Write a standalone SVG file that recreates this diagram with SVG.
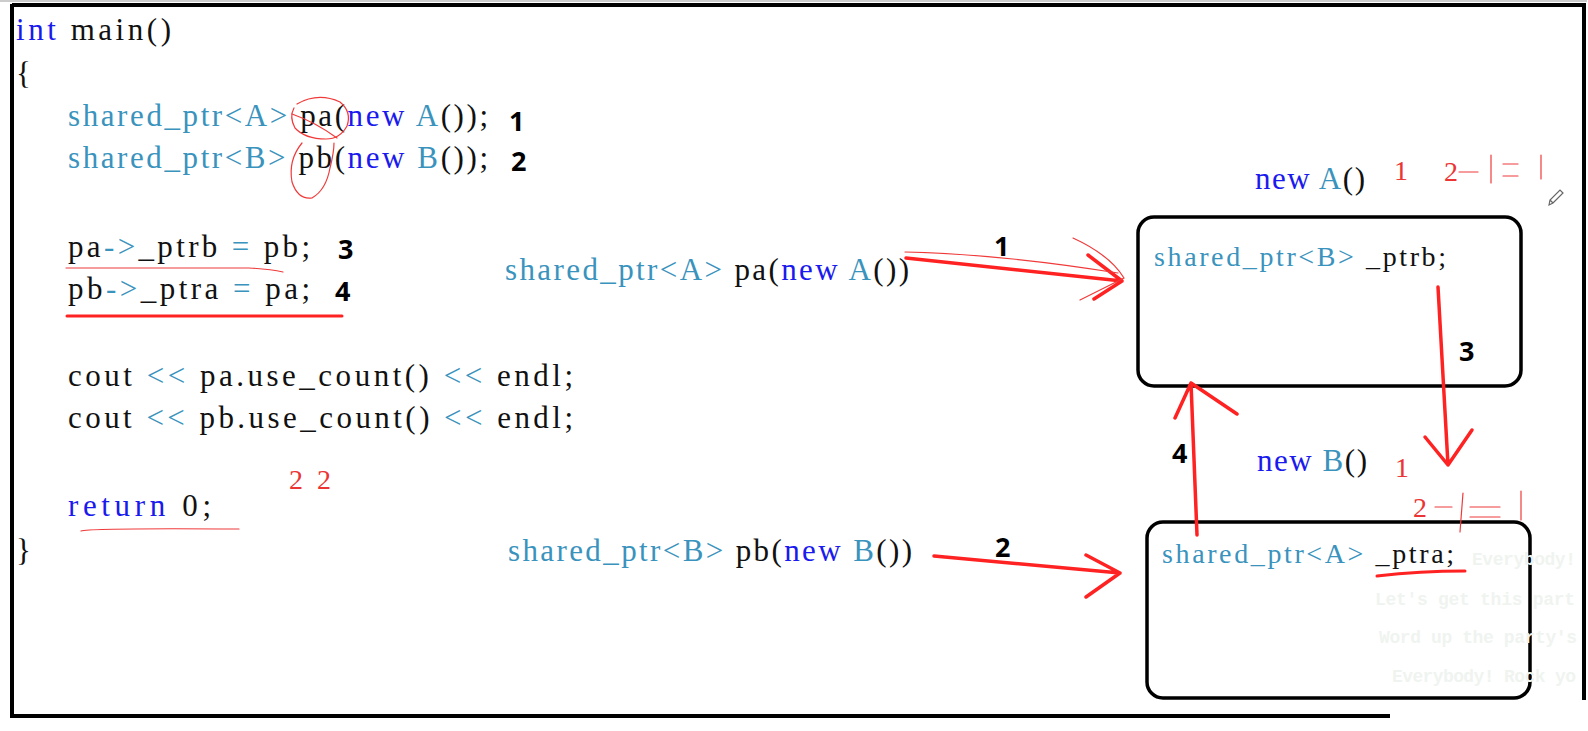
<svg xmlns="http://www.w3.org/2000/svg" width="1588" height="731" viewBox="0 0 1588 731">
<style>
.code{font-family:"Liberation Serif","Noto Sans CJK SC",serif;font-size:31px;fill:#111}
.box{font-family:"Liberation Serif","Noto Sans CJK SC",serif;font-size:28px;fill:#111}
.k{fill:#1a1aee}
.t{fill:#3a93bd}
.num{font-family:"Open Sans","Noto Sans",sans-serif;font-weight:700;font-size:27px;fill:#000}
.rd{font-family:"Liberation Serif",serif;font-size:28px;fill:#ec3434}
.wm{font-family:"Liberation Mono",monospace;font-weight:700;font-size:18px;fill:#f0f4f0}
.frame{stroke:#000;stroke-width:4;fill:none}
.node{fill:#fff;stroke:#000;stroke-width:3.5}
.arr{stroke:#f22;stroke-width:3.5;fill:none;stroke-linecap:round;stroke-linejoin:round}
.thin{stroke:#f03a3a;stroke-width:1.2;fill:none;stroke-linecap:round}
</style>
<rect width="1588" height="731" fill="#fff"/>

<g id="frame">
<path d="M0,1 H1587" stroke="#999" stroke-width="1"/>
<path class="frame" d="M12,5 H1584 V700"/>
<path class="frame" d="M12,4 V716 H1390"/>
</g>

<g id="code">
<text class="code" x="16" y="40" textLength="155"><tspan class="k">int</tspan> main()</text>
<text class="code" x="16" y="84">{</text>
<text class="code" x="68" y="126" textLength="420"><tspan class="t">shared_ptr&lt;A&gt;</tspan> pa(<tspan class="k">new</tspan><tspan class="t"> A</tspan>());</text>
<text class="code" x="68" y="168" textLength="420"><tspan class="t">shared_ptr&lt;B&gt;</tspan> pb(<tspan class="k">new</tspan><tspan class="t"> B</tspan>());</text>
<text class="code" x="68" y="257" textLength="242">pa<tspan class="t">-&gt;</tspan>_ptrb <tspan class="t">=</tspan> pb;</text>
<text class="code" x="68" y="299" textLength="242">pb<tspan class="t">-&gt;</tspan>_ptra <tspan class="t">=</tspan> pa;</text>
<text class="code" x="68" y="386" textLength="505">cout <tspan class="t">&lt;&lt;</tspan> pa.use_count() <tspan class="t">&lt;&lt;</tspan> endl;</text>
<text class="code" x="68" y="428" textLength="505">cout <tspan class="t">&lt;&lt;</tspan> pb.use_count() <tspan class="t">&lt;&lt;</tspan> endl;</text>
<text class="code" x="68" y="516" textLength="143"><tspan class="k">return</tspan> 0;</text>
<text class="code" x="16" y="561">}</text>
<text class="num" x="509" y="131">1</text>
<text class="num" x="511" y="171">2</text>
<text class="num" x="338" y="259">3</text>
<text class="num" x="335" y="301">4</text>
<text class="rd" x="289" y="489" textLength="42">2 2</text>
</g>

<g id="annotations">
<path class="thin" d="M297,104 Q318,92 340,102 Q352,112 347,126 Q340,139 326,139 Q305,139 295,128 Q289,117 294,108"/>
<path class="thin" d="M292,114 Q315,122 337,138"/>
<path class="thin" d="M302,143 Q288,160 292,182 Q298,200 312,198 Q326,190 330,168 Q334,152 334,143"/>
<path class="thin" d="M66,268 L249,268 Q270,269 283,272"/>
<path d="M67,316 L342,316" stroke="#f22" stroke-width="3" stroke-linecap="round"/>
<path class="thin" d="M81,531 Q90,528 239,529"/>
</g>

<g id="label-pa">
<text class="code" x="505" y="280" textLength="404"><tspan class="t">shared_ptr&lt;A&gt;</tspan> pa(<tspan class="k">new</tspan><tspan class="t"> A</tspan>())</text>
</g>
<g id="label-pb">
<text class="code" x="508" y="561" textLength="404"><tspan class="t">shared_ptr&lt;B&gt;</tspan> pb(<tspan class="k">new</tspan><tspan class="t"> B</tspan>())</text>
</g>

<g id="nodeA">
<text class="code" x="1255" y="189" textLength="110"><tspan class="k">new</tspan><tspan class="t"> A</tspan>()</text>
<rect class="node" x="1138" y="217" width="383" height="169" rx="16"/>
<text class="box" x="1154" y="266" textLength="292"><tspan class="t">shared_ptr&lt;B&gt;</tspan> _ptrb;</text>
<text class="rd" x="1394" y="180">1</text>
<text class="rd" x="1444" y="181">2</text>
<path class="thin" d="M1459,172 H1478 M1491,155 V183 M1503,164 H1518 M1503,176 H1518 M1541,155 V179"/>
</g>

<g id="nodeB">
<text class="code" x="1257" y="471" textLength="110"><tspan class="k">new</tspan><tspan class="t"> B</tspan>()</text>
<rect class="node" x="1147" y="522" width="383" height="176" rx="16"/>
<text class="wm" x="1472" y="565" textLength="104">Everybody!</text>
<text class="wm" x="1375" y="605" textLength="200">Let's get this part</text>
<text class="wm" x="1379" y="643" textLength="198">Word up the party's</text>
<text class="wm" x="1392" y="682" textLength="184">Everybody! Rock yo</text>
<text class="box" x="1162" y="563" textLength="292"><tspan class="t">shared_ptr&lt;A&gt;</tspan> _ptra;</text>
<path d="M1377,576 Q1420,571 1465,571" stroke="#f22" stroke-width="3" fill="none" stroke-linecap="round"/>
<text class="rd" x="1395" y="477">1</text>
<text class="rd" x="1413" y="517">2</text>
<path class="thin" d="M1435,507 H1452 M1463,493 L1460,532 M1470,507 H1500 M1470,517 H1500 M1521,491 V520"/>
</g>

<g id="connectors">
<path class="arr" d="M906,258 L1122,281 M1088,255 L1122,281 L1094,299"/>
<path class="thin" d="M905,252 Q1000,254 1118,273 M1073,238 Q1110,255 1124,278 Q1100,290 1080,300"/>
<path class="arr" d="M934,556 L1120,573 M1086,555 L1120,573 L1086,597"/>
<path class="arr" d="M1438,287 L1448,465 M1425,437 L1448,465 L1472,430"/>
<path class="arr" d="M1197,535 L1191,383 M1175,418 L1191,383 L1237,414"/>
<text class="num" x="994" y="256">1</text>
<text class="num" x="995" y="557">2</text>
<text class="num" x="1459" y="361">3</text>
<text class="num" x="1172" y="463">4</text>
</g>

<g id="pencil" fill="none" stroke="#666" stroke-width="1.2">
<path d="M1549,205 L1550,200 L1560,190 L1563,193 L1553,203 Z M1550,200 L1553,203"/>
</g>
</svg>
